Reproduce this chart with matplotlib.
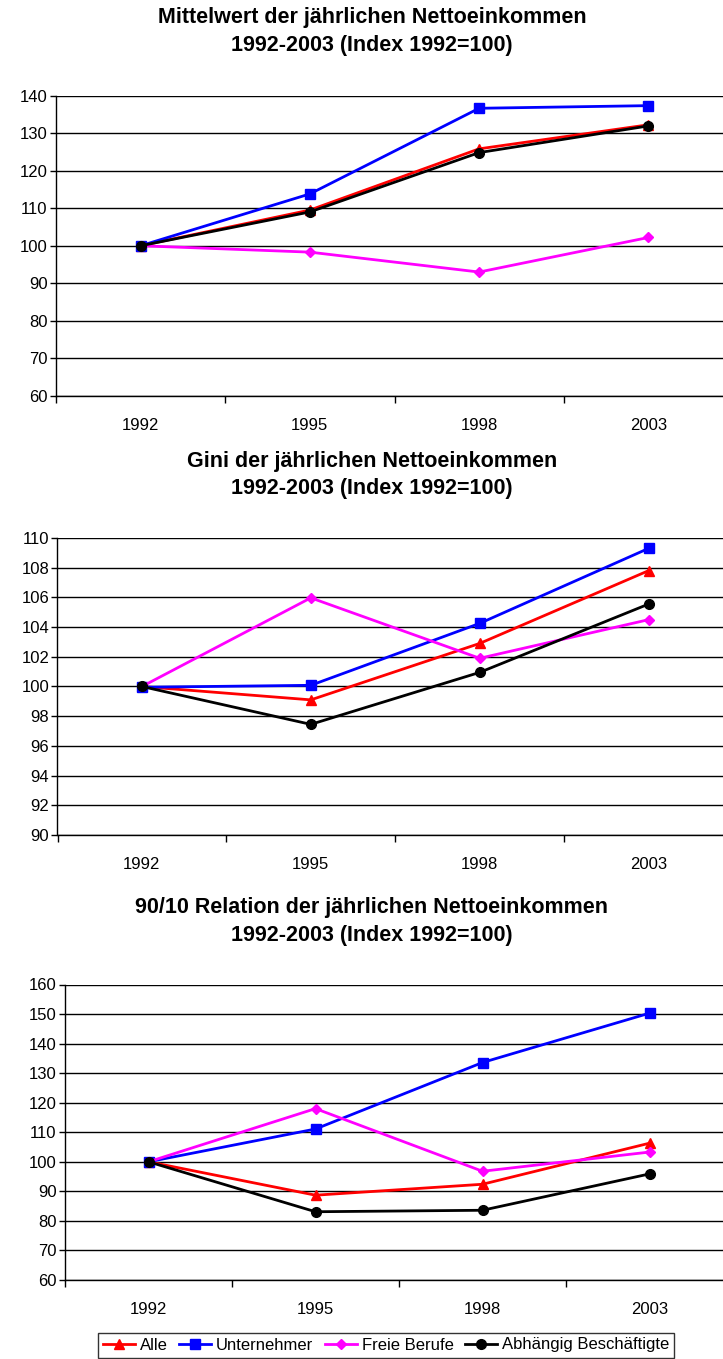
import numpy as np
import matplotlib
matplotlib.use('Agg')
import matplotlib.pyplot as plt

plt.rcParams['font.family'] = ['Liberation Sans', 'DejaVu Sans']

jahre = ['1992', '1995', '1998', '2003']
serien = ['Alle', 'Unternehmer', 'Freie Berufe', 'Abhängig Beschäftigte']

# Mittelwert (Index 1992=100)
mittel_alle = [100, 109.5, 125.8, 132.2]
mittel_unternehmer = [100, 113.8, 136.6, 137.3]
mittel_freie = [100, 98.3, 93.0, 102.2]
mittel_abhaengig = [100, 109.0, 124.8, 131.9]

# Gini (Index 1992=100)
gini_alle = [100, 99.1, 102.9, 107.8]
gini_unternehmer = [99.95, 100.08, 104.25, 109.3]
gini_freie = [100, 105.97, 101.9, 104.5]
gini_abhaengig = [100, 97.45, 100.95, 105.55]

# 90/10 Relation (Index 1992=100)
rel_alle = [100, 88.7, 92.4, 106.3]
rel_unternehmer = [100, 111.1, 133.6, 150.3]
rel_freie = [100, 118.0, 96.8, 103.3]
rel_abhaengig = [100, 83.1, 83.6, 95.9]

farben = ['#ff0000', '#0000ff', '#ff00ff', '#000000']
marker = ['^', 's', 'D', 'o']
msizes = [6.5, 6.5, 5.5, 7]

W, H = 723, 1359
fig = plt.figure(figsize=(W / 100, H / 100), dpi=100)

def px_axes(left, top, bottom, right=733):
    return fig.add_axes([left / W, 1 - bottom / H, (right - left) / W, (bottom - top) / H])

diagramme = [
    dict(titel='Mittelwert der jährlichen Nettoeinkommen\n1992-2003 (Index 1992=100)',
         t_y=31.5, box=(56, 95.5, 396), ylim=(60, 140), step=10,
         daten=[mittel_alle, mittel_unternehmer, mittel_freie, mittel_abhaengig]),
    dict(titel='Gini der jährlichen Nettoeinkommen\n1992-2003 (Index 1992=100)',
         t_y=475, box=(57.5, 538, 835), ylim=(90, 110), step=2,
         daten=[gini_alle, gini_unternehmer, gini_freie, gini_abhaengig]),
    dict(titel='90/10 Relation der jährlichen Nettoeinkommen\n1992-2003 (Index 1992=100)',
         t_y=921.5, box=(65, 984.5, 1280), ylim=(60, 160), step=10,
         daten=[rel_alle, rel_unternehmer, rel_freie, rel_abhaengig]),
]

x = np.arange(len(jahre))
handles = []
for d in diagramme:
    ax = px_axes(*d['box'])
    lo, hi = d['ylim']
    for werte, name, c, m, ms in zip(d['daten'], serien, farben, marker, msizes):
        h, = ax.plot(x, werte, color=c, marker=m, markersize=ms, linewidth=2,
                     label=name, zorder=3)
        if len(handles) < 4:
            handles.append(h)
    ax.set_ylim(lo, hi)
    ax.set_xlim(-0.5, 3.5)
    ax.set_yticks(np.arange(lo, hi + 0.1, d['step']))
    ax.yaxis.grid(True, color='black', linewidth=1)
    ax.set_axisbelow(True)
    ax.set_xticks([-0.5, 0.5, 1.5, 2.5, 3.5])
    ax.set_xticklabels([])
    ax.set_xticks(x, minor=True)
    ax.set_xticklabels(jahre, minor=True)
    ax.tick_params(axis='x', which='major', length=5, width=1, direction='out')
    ax.tick_params(axis='x', which='minor', length=0, pad=16, labelsize=12)
    ax.tick_params(axis='y', length=4, width=1, labelsize=12, pad=2)
    ax.spines['top'].set_visible(False)
    ax.spines['right'].set_visible(False)
    for s in ['left', 'bottom']:
        ax.spines[s].set_color('black')
        ax.spines[s].set_linewidth(1)
    fig.text(372 / W, 1 - d['t_y'] / H, d['titel'], ha='center', va='center',
             fontsize=15.5, fontweight='bold', linespacing=1.4)

fig.legend(handles, serien, loc='center', bbox_to_anchor=(386 / W, 1 - 1345 / H),
           ncol=4, fontsize=12, frameon=True, fancybox=False, edgecolor='black',
           handlelength=1.9, handletextpad=0.3, columnspacing=0.7,
           borderpad=0.3, borderaxespad=0)

fig.savefig('out.png', dpi=100)
